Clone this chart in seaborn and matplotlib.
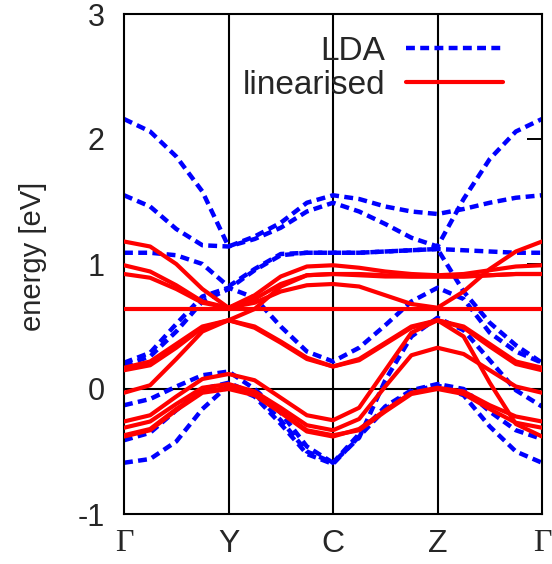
import pandas as pd
import matplotlib
matplotlib.use("Agg")
import matplotlib.pyplot as plt
from matplotlib.lines import Line2D
import seaborn as sns

# sample positions along the path Gamma-Y-C-Z-Gamma (k-points at 0..4)
k = [0.0, 0.25, 0.5, 0.75, 1.0, 1.25, 1.5, 1.75, 2.0,
     2.25, 2.5, 2.75, 3.0, 3.25, 3.5, 3.75, 4.0]
kpoints = [0, 1, 2, 3, 4]
klabels = ['Γ', 'Y', 'C', 'Z', 'Γ']
yticks = [-1, 0, 1, 2, 3]

# LDA bands (eV)
lda_1 = [2.16, 2.06, 1.86, 1.58, 1.14, 1.22, 1.33, 1.49, 1.55, 1.52, 1.46, 1.42, 1.40, 1.44, 1.49, 1.53, 1.55]
lda_2 = [1.55, 1.46, 1.28, 1.15, 1.14, 1.20, 1.29, 1.42, 1.49, 1.42, 1.32, 1.21, 1.14, 1.52, 1.84, 2.06, 2.16]
lda_3 = [1.09, 1.09, 1.07, 1.00, 0.82, 0.96, 1.08, 1.09, 1.09, 1.09, 1.10, 1.11, 1.12, 1.11, 1.10, 1.09, 1.09]
lda_4 = [0.19, 0.26, 0.46, 0.70, 0.80, 0.95, 1.07, 1.09, 1.09, 1.09, 1.10, 1.11, 1.12, 0.78, 0.53, 0.35, 0.21]
lda_5 = [0.21, 0.29, 0.52, 0.74, 0.81, 0.73, 0.50, 0.30, 0.22, 0.33, 0.51, 0.70, 0.81, 0.72, 0.45, 0.30, 0.21]
lda_6 = [-0.13, -0.08, 0.02, 0.11, 0.14, 0.00, -0.19, -0.46, -0.59, -0.39, 0.07, 0.42, 0.57, 0.47, 0.23, -0.01, -0.14]
lda_7 = [-0.41, -0.35, -0.17, 0.00, 0.05, -0.04, -0.25, -0.50, -0.59, -0.36, -0.14, -0.01, 0.04, 0.00, -0.18, -0.33, -0.40]
lda_8 = [-0.59, -0.56, -0.42, -0.16, 0.03, -0.06, -0.28, -0.52, -0.60, -0.38, -0.16, -0.02, 0.03, -0.05, -0.30, -0.50, -0.59]

# linearised bands (eV)
lin_1 = [1.18, 1.14, 1.00, 0.80, 0.65, 0.75, 0.90, 0.98, 0.99, 0.97, 0.94, 0.92, 0.91, 0.92, 0.95, 0.98, 0.99]
lin_2 = [0.99, 0.94, 0.83, 0.70, 0.65, 0.72, 0.84, 0.91, 0.92, 0.91, 0.90, 0.90, 0.90, 0.90, 0.91, 0.92, 0.92]
lin_3 = [0.92, 0.89, 0.80, 0.69, 0.65, 0.69, 0.78, 0.83, 0.84, 0.82, 0.75, 0.68, 0.65, 0.78, 0.96, 1.10, 1.18]
lin_4 = [0.64, 0.64, 0.64, 0.64, 0.64, 0.64, 0.64, 0.64, 0.64, 0.64, 0.64, 0.64, 0.64, 0.64, 0.64, 0.64, 0.64]
lin_5 = [0.17, 0.22, 0.36, 0.50, 0.55, 0.50, 0.38, 0.25, 0.18, 0.24, 0.37, 0.50, 0.55, 0.50, 0.36, 0.22, 0.17]
lin_6 = [0.15, 0.19, 0.33, 0.49, 0.55, 0.49, 0.37, 0.24, 0.18, 0.23, 0.36, 0.49, 0.55, 0.49, 0.34, 0.20, 0.15]
lin_7 = [-0.03, 0.03, 0.24, 0.46, 0.55, 0.64, 0.82, 0.91, 0.92, 0.92, 0.91, 0.90, 0.90, 0.90, 0.91, 0.92, 0.92]
lin_8 = [-0.26, -0.21, -0.06, 0.08, 0.12, 0.07, -0.07, -0.21, -0.25, -0.15, 0.15, 0.45, 0.55, 0.42, 0.05, -0.28, -0.38]
lin_9 = [-0.31, -0.26, -0.12, 0.01, 0.04, -0.02, -0.15, -0.29, -0.33, -0.24, 0.02, 0.27, 0.33, 0.28, 0.15, 0.02, -0.03]
lin_10 = [-0.38, -0.33, -0.17, -0.03, 0.00, -0.05, -0.19, -0.34, -0.38, -0.32, -0.17, -0.03, 0.01, -0.02, -0.13, -0.22, -0.26]
lin_11 = [-0.37, -0.32, -0.16, -0.02, 0.01, -0.04, -0.18, -0.33, -0.37, -0.33, -0.18, -0.04, 0.00, -0.04, -0.16, -0.27, -0.31]

lda_bands = [lda_1, lda_2, lda_3, lda_4, lda_5, lda_6, lda_7, lda_8]
lin_bands = [lin_1, lin_2, lin_3, lin_4, lin_5, lin_6, lin_7, lin_8, lin_9, lin_10, lin_11]


def to_long(bands):
    rows = []
    for i, e in enumerate(bands):
        for kk, ee in zip(k, e):
            rows.append((i, kk, ee))
    return pd.DataFrame(rows, columns=['band', 'k', 'energy'])


lda = to_long(lda_bands)
lin = to_long(lin_bands)

sns.set_style('white')
plt.rcParams['font.family'] = ['Liberation Sans', 'DejaVu Sans']
plt.rcParams['axes.unicode_minus'] = False

fig = plt.figure(figsize=(5.52, 5.64), dpi=100)
ax = fig.add_axes([124 / 552, 50 / 564, 418 / 552, 500 / 564])

for kp in kpoints[1:-1]:
    ax.axvline(kp, color='black', lw=1.5, zorder=1)
ax.axhline(0, color='black', lw=1.5, zorder=1)

blue_dash = (0, (2.0, 1.2))
sns.lineplot(data=lda, x='k', y='energy', units='band', estimator=None, sort=False,
             color='#0000ff', linewidth=3.2, linestyle=blue_dash, legend=False, ax=ax, zorder=2)
sns.lineplot(data=lin, x='k', y='energy', units='band', estimator=None, sort=False,
             color='#ff0000', linewidth=3.0, legend=False, ax=ax, zorder=3)

ax.set_xlim(0, 4)
ax.set_ylim(-1, 3)
ax.set_xticks(kpoints)
ax.set_xticklabels(klabels)
ax.set_yticks(yticks)
ax.set_yticklabels([str(v) for v in yticks])
ax.set_xlabel('')
ax.set_ylabel('energy [eV]', fontsize=21)
ax.yaxis.set_label_coords(-0.185, 0.516)

ax.tick_params(direction='in', length=11, width=1.4, top=True, right=True, color='black')
ax.tick_params(axis='x', pad=11, labelsize=23)
ax.tick_params(axis='y', pad=14, labelsize=22)
for lbl in ax.get_xticklabels():
    if lbl.get_text() == 'Γ':
        lbl.set_fontfamily(['Liberation Serif', 'DejaVu Serif'])

for s in ax.spines.values():
    s.set_linewidth(1.5)
    s.set_color('black')

handles = [Line2D([], [], color='#0000ff', lw=3.2, linestyle=blue_dash),
           Line2D([], [], color='#ff0000', lw=3.0)]
ax.legend(handles, ['LDA', 'linearised'], loc='upper right',
          bbox_to_anchor=(503 / 552, 1 - 36 / 564), bbox_transform=fig.transFigure,
          frameon=False, markerfirst=False, fontsize=24, handlelength=2.9,
          handletextpad=0.64, labelspacing=0.08, borderpad=0, borderaxespad=0)

fig.savefig('out.png', dpi=100)
